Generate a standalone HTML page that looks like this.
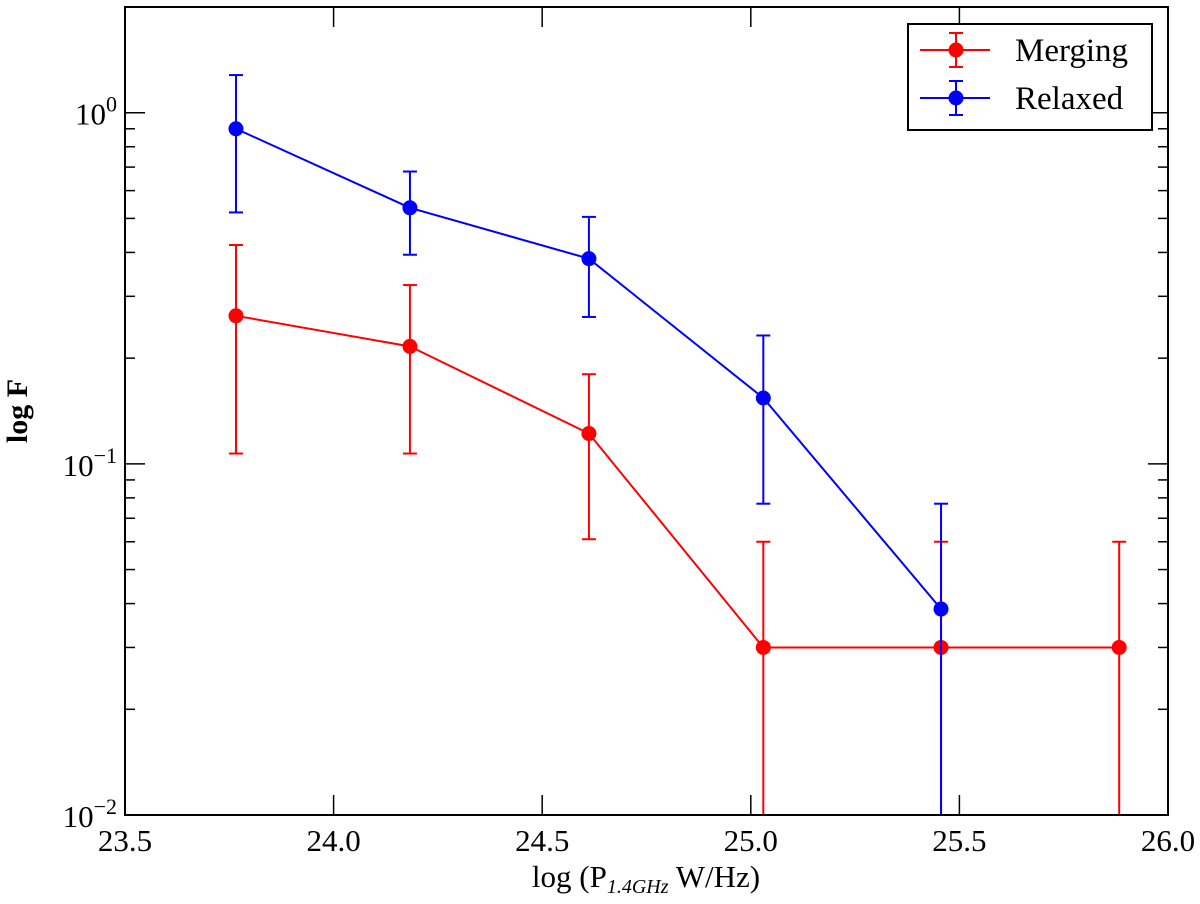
<!DOCTYPE html>
<html><head><meta charset="utf-8"><style>
html,body{margin:0;padding:0;background:#fff}
svg text{font-family:"Liberation Serif","DejaVu Serif",serif;fill:#000}
</style></head><body>
<svg id="chart" width="1200" height="899" viewBox="0 0 1200 899" xmlns="http://www.w3.org/2000/svg"></svg>
<script>
const xsM = [23.766, 24.183, 24.612, 25.03, 25.456, 25.883];
const valsM = [0.264, 0.216, 0.122, 0.030, 0.030, 0.030];
const hiM = [0.42, 0.323, 0.18, 0.06, 0.06, 0.06];
const loM = [0.107, 0.107, 0.061, 0.001, 0.001, 0.001];
const xsR = [23.766, 24.183, 24.612, 25.03, 25.456];
const valsR = [0.90, 0.536, 0.384, 0.154, 0.0386];
const hiR = [1.28, 0.68, 0.505, 0.232, 0.077];
const loR = [0.52, 0.394, 0.262, 0.077, 0.001];
const xTicks = [23.5, 24.0, 24.5, 25.0, 25.5, 26.0];
const yDecades = [-2, -1, 0];

const L=125,R=1168,T=7,B=815;
const X=v=>L+(v-23.5)/2.5*(R-L);
const yTop=Math.log10(2.0), yBot=-2;
const Y=v=>{const l=Math.max(Math.log10(v),-2.05);return T+(yTop-l)/(yTop-yBot)*(B-T);};
const svg=document.getElementById('chart');
const NS='http://www.w3.org/2000/svg';
function el(tag,attrs,parent){const e=document.createElementNS(NS,tag);for(const k in attrs)e.setAttribute(k,attrs[k]);(parent||svg).appendChild(e);return e;}

const clipDefs=el('defs',{});
const cp=el('clipPath',{id:'pa'},clipDefs);
el('rect',{x:L,y:T,width:R-L,height:B-T},cp);

const ticks=el('g',{stroke:'#000','stroke-width':1.5});


xTicks.forEach(t=>{
  const x=X(t);
  el('line',{x1:x,x2:x,y1:B,y2:B-20},ticks);
  el('line',{x1:x,x2:x,y1:T,y2:T+20},ticks);
  const tx=el('text',{x:x,y:B+36,'text-anchor':'middle','font-size':31});
  tx.textContent=t.toFixed(1);
  
  
});
yDecades.forEach(d=>{
  const y=Y(Math.pow(10,d));
  el('line',{x1:L,x2:L+20,y1:y,y2:y},ticks);
  el('line',{x1:R,x2:R-20,y1:y,y2:y},ticks);
  const tx=el('text',{x:L-8,y:y+12,'text-anchor':'end','font-size':31});
  tx.innerHTML='10<tspan dy="-13" font-size="22">'+(d<0?'\u2212'+(-d):d)+'</tspan>';
  
  
  for(let m=2;m<=9;m++){
    const v=m*Math.pow(10,d); if(v>2.0)break;
    const ym=Y(v);
    el('line',{x1:L,x2:L+10,y1:ym,y2:ym},ticks);
    el('line',{x1:R,x2:R-10,y1:ym,y2:ym},ticks);
  }
});

function series(xs,vals,hi,lo,color,name){
  const g=el('g',{'clip-path':'url(#pa)'});
  
  
  el('polyline',{points:xs.map((x,i)=>X(x)+','+Y(vals[i])).join(' '),fill:'none',stroke:color,'stroke-width':2},g);
  xs.forEach((x,i)=>{
    const cx=X(x);
    const eb=el('g',{stroke:color,'stroke-width':2},g);
    
    
    el('line',{x1:cx,x2:cx,y1:Y(hi[i]),y2:Y(lo[i])},eb);
    el('line',{x1:cx-7,x2:cx+7,y1:Y(hi[i]),y2:Y(hi[i])},eb);
    el('line',{x1:cx-7,x2:cx+7,y1:Y(lo[i]),y2:Y(lo[i])},eb);
    const c=el('circle',{cx:cx,cy:Y(vals[i]),r:7.5,fill:color},g);
    
    
  });
}
series(xsM,valsM,hiM,loM,'#ff0000','merging');
series(xsR,valsR,hiR,loR,'#0000ff','relaxed');

const frame=el('rect',{x:L,y:T,width:R-L,height:B-T,fill:'none',stroke:'#000','stroke-width':2});



const lg=el('g',{});


el('rect',{x:908,y:24,width:244,height:106,fill:'#fff',stroke:'#000','stroke-width':2},lg);
[['Merging','#ff0000',50],['Relaxed','#0000ff',98]].forEach(([n,c,y])=>{
  const e=el('g',{},lg);
  
  
  el('line',{x1:920,x2:990,y1:y,y2:y,stroke:c,'stroke-width':2},e);
  el('line',{x1:956,x2:956,y1:y-17,y2:y+17,stroke:c,'stroke-width':2},e);
  el('line',{x1:949,x2:963,y1:y-17,y2:y-17,stroke:c,'stroke-width':2},e);
  el('line',{x1:949,x2:963,y1:y+17,y2:y+17,stroke:c,'stroke-width':2},e);
  el('circle',{cx:956,cy:y,r:7.5,fill:c},e);
  const t=el('text',{x:1015,y:y+11,'font-size':33},e);t.textContent=n;
});

const xl=el('text',{x:646,y:887,'text-anchor':'middle','font-size':31});
xl.innerHTML='log (P<tspan dy="6" font-size="20" font-style="italic">1.4GHz</tspan><tspan dy="-6"> W/Hz)</tspan>';


const yl=el('text',{x:0,y:0,'text-anchor':'middle','font-size':30,'font-weight':'bold',transform:'translate(27,411) rotate(-90)'});
yl.textContent='log F';


</script>
</body></html>
